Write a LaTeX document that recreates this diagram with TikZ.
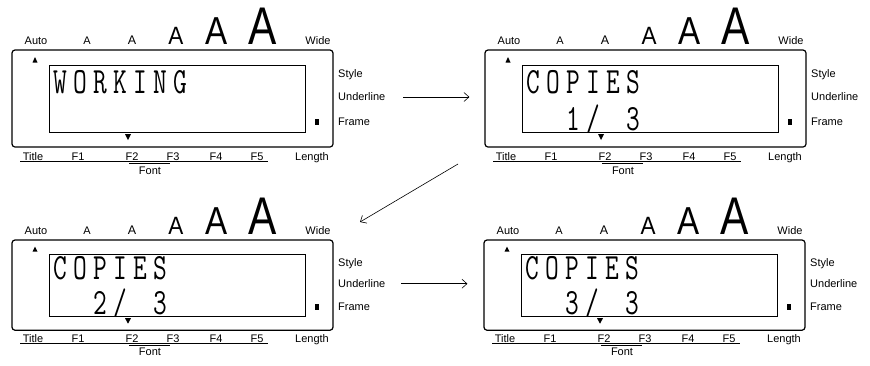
\documentclass[tikz,border=0pt]{standalone}
\usepackage{fontspec}
\setmainfont{Liberation Sans}
\usetikzlibrary{arrows.meta}

% one character cell of the label display
\newcommand\lcdcell[1]{\makebox[20pt]{\scalebox{0.72}[1]{#1}}}
\makeatletter
\newcommand\lcdword[1]{\lcd@loop#1\@nil}
\def\lcd@loop#1{\ifx#1\@nil\else\lcdcell{#1}\expandafter\lcd@loop\fi}
\makeatother

\begin{document}
\begin{tikzpicture}[
  x=1pt, y=-1pt,
  >={Straight Barb[length=5pt,width=9pt]},
  panel box/.style={
    draw,
    line width=1.2pt,
    rounded corners=3pt,
    minimum width=321pt,
    inner sep=0pt
  },
  screen box/.style={
    draw,
    line width=0.8pt,
    minimum width=256pt,
    inner sep=0pt
  },
  key label/.style={
    inner sep=0pt,
    font=\fontsize{11}{11}\selectfont
  },
  size glyph/.style={
    inner sep=0pt,
    anchor=base
  },
  lcd text/.style={
    inner sep=0pt,
    anchor=base west,
    font=\fontsize{37}{37}\selectfont\ttfamily
  },
  step arrow/.style={
    ->,
    line width=0.6pt
  }
]
\useasboundingbox (0,0) rectangle (870,365);

\foreach \px/\py/\ys/\nm/\lineone/\copyno in {12/50/1/a/WORKING/0, 485/50/1/b/COPIES/1,
    12/240/0.93/c/COPIES/2, 484/240/0.93/d/COPIES/3} {
  \begin{scope}[shift={(\px,\py)}, yscale=\ys]
    \node[panel box, minimum height=97pt*\ys] (box-\nm) at (160.5,48.5) {};
    \node[screen box, minimum height=67pt*\ys] (screen-\nm) at (165,48.5) {};

    % size scale above the display
    \node[key label, anchor=base] (auto-\nm) at (24,-6) {Auto};
    \node[size glyph, font=\fontsize{11}{11}\selectfont] (sa-\nm) at (75,-6) {A};
    \node[size glyph, font=\fontsize{12.5}{12.5}\selectfont] (sb-\nm) at (120,-6) {A};
    \node[size glyph, font=\fontsize{25}{25}\selectfont] (sc-\nm) at (164,-6) {\scalebox{0.9}[1]{A}};
    \node[size glyph, font=\fontsize{39}{39}\selectfont] (sd-\nm) at (205,-6) {\scalebox{0.85}[1]{A}};
    \node[size glyph, font=\fontsize{53}{53}\selectfont] (se-\nm) at (251,-6) {\scalebox{0.8}[1]{A}};
    \node[key label, anchor=base] (wide-\nm) at (306,-6) {Wide};

    % cursor marks
    \fill (23,7) -- (20.5,12.5) -- (25.5,12.5) -- cycle;
    \fill (113,84) -- (119,84) -- (116,90) -- cycle;
    \fill (303,69) rectangle (307,75);

    % display text
    \node[lcd text] (lone-\nm) at (38,43) {\expandafter\lcdword\expandafter{\lineone}};
    \node[lcd text] (ltwo-\nm) at (38,80) {\ifnum\copyno>0 \lcdword{~~\copyno/~3}\fi};

    % labels on the right
    \node[key label, anchor=west] (style-\nm) at (326,25) {Style};
    \node[key label, anchor=west] (ul-\nm) at (326,47) {Underline};
    \node[key label, anchor=west] (frame-\nm) at (326,72) {Frame};

    % keys below
    \node[key label, anchor=base] (title-\nm) at (21,110) {Title};
    \node[key label, anchor=base] (fone-\nm) at (66,110) {F1};
    \node[key label, anchor=base] (ftwo-\nm) at (120,110) {F2};
    \node[key label, anchor=base] (fthree-\nm) at (161,110) {F3};
    \node[key label, anchor=base] (ffour-\nm) at (204,110) {F4};
    \node[key label, anchor=base] (ffive-\nm) at (245,110) {F5};
    \node[key label, anchor=base] (length-\nm) at (300,110) {Length};
    \draw[line width=0.5pt] (8,111.5) -- (256,111.5);
    \draw[line width=1.6pt] (117,113.5) -- (158,113.5);
    \node[key label, anchor=base] (font-\nm) at (138,124) {Font};
  \end{scope}
}

\coordinate (turn-start) at (458,164);
\coordinate (turn-end) at (360,222);

\draw[step arrow, shorten <=18pt, shorten >=15pt] (ul-a.east) -- (ul-a.east -| box-b.west);
\draw[step arrow] (turn-start) -- (turn-end);
\draw[step arrow, shorten <=16pt, shorten >=16pt] (ul-c.east) -- (ul-c.east -| box-d.west);

\end{tikzpicture}
\end{document}
